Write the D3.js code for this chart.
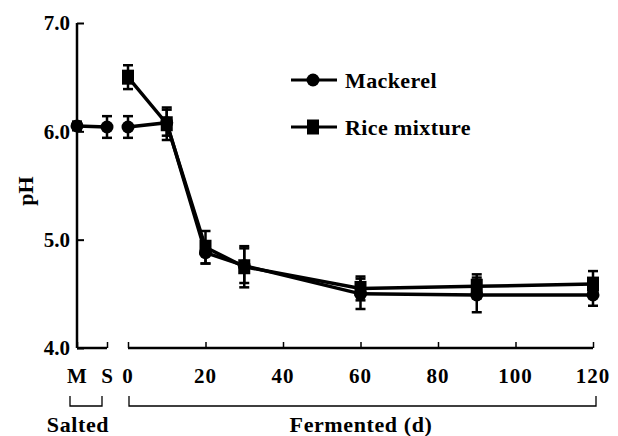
<!DOCTYPE html>
<html>
<head>
<meta charset="utf-8">
<script src="https://cdn.jsdelivr.net/npm/d3@7"></script>
<style>
  html, body { margin: 0; padding: 0; background: #fff; }
  svg text { font-family: "Liberation Serif", "Times New Roman", serif; font-weight: bold; fill: #000; }
</style>
</head>
<body>
<svg id="chart" width="618" height="436"></svg>
<script>
// Salted stage (Mackerel only)
const saltedCats = ["M", "S"];
const mackerelSalted = [6.05, 6.04];
const mackerelSaltedErr = [0.04, 0.1];

// Fermentation stage, days
const days = [0, 10, 20, 30, 60, 90, 120];
const mackerel = [6.04, 6.08, 4.88, 4.76, 4.50, 4.49, 4.49];
const mackerelErr = [0.1, 0.12, 0.1, 0.16, 0.14, 0.16, 0.1];
const rice = [6.50, 6.07, 4.93, 4.75, 4.55, 4.57, 4.59];
const riceErr = [0.11, 0.15, 0.15, 0.19, 0.11, 0.11, 0.12];

const yTicks = [4, 5, 6, 7];
const dayTicks = [0, 20, 40, 60, 80, 100, 120];

const svg = d3.select("#chart");
const ink = "#000";
const tickFont = 21;
const labelFont = 22;

const y = d3.scaleLinear().domain([4, 7]).range([348, 23]);
const xs = d3.scalePoint().domain(saltedCats).range([77, 107]);
const xf = d3.scaleLinear().domain([0, 120]).range([128, 593]);

// Y axis with inward ticks
const yAxis = svg.append("g").attr("transform", "translate(77,0)")
  .call(d3.axisRight(y).tickValues(yTicks).tickSize(7).tickFormat(""));
yAxis.select(".domain").attr("d", `M0,${y(7)}V${y(4)}`).attr("stroke", ink).attr("stroke-width", 2.5);
yAxis.selectAll(".tick line").attr("stroke", ink).attr("stroke-width", 2);
svg.append("g").selectAll("text").data(yTicks).join("text")
  .attr("x", 70).attr("y", d => y(d)).attr("dy", "0.35em")
  .attr("text-anchor", "end").attr("font-size", tickFont)
  .text(d => d.toFixed(1));

// Salted x axis segment
const xsAxis = svg.append("g").attr("transform", `translate(0,${y(4)})`)
  .call(d3.axisTop(xs).tickSize(6).tickFormat(""));
xsAxis.select(".domain").attr("d", `M${xs("M")},0H${xs("S")}`).attr("stroke", ink).attr("stroke-width", 2.5);
xsAxis.selectAll(".tick line").attr("stroke", ink).attr("stroke-width", 1.5);
svg.append("g").selectAll("text").data(saltedCats).join("text")
  .attr("x", d => xs(d)).attr("y", 383).attr("text-anchor", "middle").attr("font-size", tickFont)
  .text(d => d);

// Fermented x axis segment
const xfAxis = svg.append("g").attr("transform", `translate(0,${y(4)})`)
  .call(d3.axisTop(xf).tickValues(dayTicks).tickSize(6).tickFormat(""));
xfAxis.select(".domain").attr("d", `M${xf(0)},0H${xf(120)}`).attr("stroke", ink).attr("stroke-width", 2.5);
xfAxis.selectAll(".tick line").attr("stroke", ink).attr("stroke-width", 1.5);
svg.append("g").selectAll("text").data(dayTicks).join("text")
  .attr("x", d => xf(d)).attr("y", 383).attr("text-anchor", "middle").attr("font-size", tickFont)
  .attr("letter-spacing", 1)
  .text(d => d);

// Group brackets beneath the axis
function bracket(x0, x1, label, labelX) {
  svg.append("path")
    .attr("d", `M${x0},396V406H${x1}V396`)
    .attr("fill", "none").attr("stroke", ink).attr("stroke-width", 1.3);
  svg.append("text").attr("x", labelX).attr("y", 432)
    .attr("text-anchor", "middle").attr("font-size", labelFont).attr("letter-spacing", 0.6).text(label);
}
bracket(70, 102, "Salted", 78);
bracket(129, 596, "Fermented (d)", 361);

// Y axis title
svg.append("text").attr("transform", "translate(33,191) rotate(-90)")
  .attr("text-anchor", "middle").attr("font-size", labelFont).text("pH");

// Series drawing helpers
const line = d3.line().x(d => d.x).y(d => d.y);

function errorBars(pts) {
  const g = svg.append("g");
  pts.forEach(p => {
    const top = y(p.v + p.e), bot = y(p.v - p.e);
    g.append("line").attr("x1", p.x).attr("x2", p.x).attr("y1", top).attr("y2", bot)
      .attr("stroke", ink).attr("stroke-width", 2.5);
    [top, bot].forEach(yy => g.append("line")
      .attr("x1", p.x - 5).attr("x2", p.x + 5).attr("y1", yy).attr("y2", yy)
      .attr("stroke", ink).attr("stroke-width", 2.5));
  });
}

function circles(pts) {
  svg.append("g").selectAll("circle").data(pts).join("circle")
    .attr("cx", d => d.x).attr("cy", d => d.y).attr("r", 6.5).attr("fill", ink);
}
function squares(pts) {
  svg.append("g").selectAll("rect").data(pts).join("rect")
    .attr("x", d => d.x - 6).attr("y", d => d.y - 7.5).attr("width", 12).attr("height", 15).attr("fill", ink);
}

const mSalted = saltedCats.map((c, i) => ({ x: xs(c), y: y(mackerelSalted[i]), v: mackerelSalted[i], e: mackerelSaltedErr[i] }));
const mFerm = days.map((d, i) => ({ x: xf(d), y: y(mackerel[i]), v: mackerel[i], e: mackerelErr[i] }));
const rFerm = days.map((d, i) => ({ x: xf(d), y: y(rice[i]), v: rice[i], e: riceErr[i] }));

errorBars(mSalted); errorBars(mFerm); errorBars(rFerm);

[mSalted, mFerm, rFerm].forEach(pts => svg.append("path").attr("d", line(pts))
  .attr("fill", "none").attr("stroke", ink).attr("stroke-width", 3.5));

circles(mSalted); circles(mFerm); squares(rFerm);

// Legend
const legend = [
  { label: "Mackerel", shape: "circle", y: 80 },
  { label: "Rice mixture", shape: "square", y: 127 }
];
legend.forEach(L => {
  svg.append("line").attr("x1", 291).attr("x2", 337).attr("y1", L.y).attr("y2", L.y)
    .attr("stroke", ink).attr("stroke-width", 3);
  if (L.shape === "circle") {
    svg.append("circle").attr("cx", 313).attr("cy", L.y).attr("r", 6.5).attr("fill", ink);
  } else {
    svg.append("rect").attr("x", 307).attr("y", L.y - 7.5).attr("width", 12).attr("height", 15).attr("fill", ink);
  }
  svg.append("text").attr("x", 345).attr("y", L.y).attr("dy", "0.35em")
    .attr("font-size", labelFont).attr("letter-spacing", 0.4).text(L.label);
});
</script>
</body>
</html>
